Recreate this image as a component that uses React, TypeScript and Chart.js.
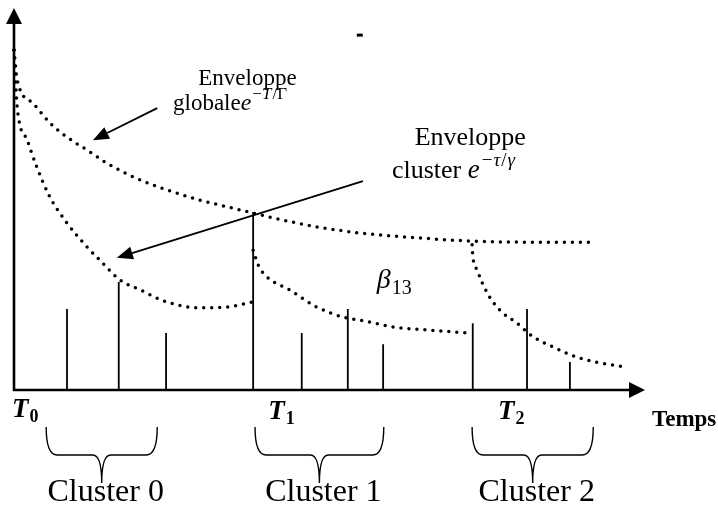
import React, { useEffect, useRef } from "react";
import { Chart, registerables } from "chart.js";

Chart.register(...registerables);

// ---- data (time units 0..100 along the axis, amplitude units 0..100) ----
const globalEnvelopeT = [0, 0.5, 3.0, 5.7, 8.4, 11.6, 14.7, 18.9, 24.2, 29.5, 34.7, 37.9, 42.6, 48.0, 54.8, 64.3, 72.3, 81.8, 91.8];
const globalEnvelopeA = [89.0, 81.2, 75.1, 69.9, 66.2, 62.8, 59.4, 55.8, 52.4, 49.7, 47.6, 46.3, 44.5, 42.7, 41.1, 39.8, 39.0, 38.7, 38.7];

const cluster0EnvelopeT = [0, 0.5, 2.1, 3.6, 5.7, 8.4, 11.6, 13.6, 16.8, 20.0, 24.3, 29.5, 33.8, 37.7];
const cluster0EnvelopeA = [89.0, 74.1, 65.4, 58.4, 50.5, 43.7, 37.4, 34.0, 28.8, 26.2, 23.0, 21.5, 21.7, 23.0];

const cluster1EnvelopeT = [37.9, 38.7, 40.1, 43.7, 48.0, 52.8, 54.8, 60.1, 65.5, 72.3];
const cluster1EnvelopeA = [36.6, 32.7, 29.6, 26.2, 21.7, 18.8, 18.3, 16.5, 15.7, 14.9];

const cluster2EnvelopeT = [72.6, 72.7, 73.4, 75.0, 77.0, 79.7, 82.3, 85.4, 89.2, 92.9, 97.1];
const cluster2EnvelopeA = [38.0, 35.3, 31.4, 25.4, 20.9, 17.5, 13.9, 11.3, 8.6, 7.1, 6.0];

const spikeTimes = [8.4, 16.6, 24.1, 37.9, 45.6, 52.9, 58.5, 72.7, 81.3, 88.1];
const spikeHeights = [21.2, 28.3, 14.9, 46.6, 14.9, 21.2, 12.0, 17.5, 21.2, 7.3];

const clusterNames = ["Cluster 0", "Cluster 1", "Cluster 2"];
const clusterStart = [5.1, 38.2, 72.6];
const clusterEnd = [22.7, 58.6, 91.8];

const originSubscripts = ["0", "1", "2"];
const originLabelTimes = [-0.3, 40.3, 76.7];

const arrowFromT = [22.7, 55.3];
const arrowFromA = [73.8, 54.7];
const arrowToT = [12.5, 16.3];
const arrowToA = [65.4, 34.6];

const axisTitle = "Temps";

// ---- styles ----
const SERIF = "'Liberation Serif', 'Times New Roman', serif";
const INK = "#000";

type Run = { text: string; font: string; dy?: number; dx?: number };

function drawRuns(ctx: CanvasRenderingContext2D, runs: Run[], x: number, y: number, align: "left" | "center" = "left") {
  let total = 0;
  for (const r of runs) {
    ctx.font = r.font;
    total += ctx.measureText(r.text).width + (r.dx || 0);
  }
  let cx = align === "center" ? x - total / 2 : x;
  ctx.textAlign = "left";
  ctx.textBaseline = "alphabetic";
  for (const r of runs) {
    ctx.font = r.font;
    cx += r.dx || 0;
    ctx.fillText(r.text, cx, y + (r.dy || 0));
    cx += ctx.measureText(r.text).width;
  }
}

function arrowHead(ctx: CanvasRenderingContext2D, fx: number, fy: number, tx: number, ty: number, len: number, half: number) {
  const ang = Math.atan2(ty - fy, tx - fx);
  const bx = tx - len * Math.cos(ang);
  const by = ty - len * Math.sin(ang);
  ctx.beginPath();
  ctx.moveTo(tx, ty);
  ctx.lineTo(bx + half * Math.sin(ang), by - half * Math.cos(ang));
  ctx.lineTo(bx - half * Math.sin(ang), by + half * Math.cos(ang));
  ctx.closePath();
  ctx.fill();
  return { bx, by };
}

function brace(ctx: CanvasRenderingContext2D, L: number, R: number, top: number, mid: number, tip: number) {
  const C = (L + R) / 2;
  const r = 11;
  const r2 = 9;
  ctx.beginPath();
  ctx.moveTo(L, top);
  ctx.quadraticCurveTo(L, mid, L + r, mid);
  ctx.lineTo(C - r2, mid);
  ctx.quadraticCurveTo(C, mid, C, tip);
  ctx.quadraticCurveTo(C, mid, C + r2, mid);
  ctx.lineTo(R - r, mid);
  ctx.quadraticCurveTo(R, mid, R, top);
  ctx.stroke();
}

const diagramPlugin = {
  id: "diagram",
  beforeDatasetsDraw(chart: any) {
    const { ctx, chartArea } = chart;
    const { left, right, top, bottom } = chartArea;
    ctx.save();
    ctx.strokeStyle = INK;
    ctx.fillStyle = INK;
    ctx.lineWidth = 2.6;
    ctx.beginPath();
    ctx.moveTo(left, bottom + 1);
    ctx.lineTo(left, top + 12);
    ctx.stroke();
    arrowHead(ctx, left, bottom, left, top, 16, 8);
    ctx.beginPath();
    ctx.moveTo(left - 1, bottom);
    ctx.lineTo(right - 12, bottom);
    ctx.stroke();
    arrowHead(ctx, left, bottom, right, bottom, 16, 8);
    ctx.restore();
  },
  afterDatasetsDraw(chart: any) {
    const { ctx, chartArea, scales } = chart;
    const X = (v: number) => scales.x.getPixelForValue(v);
    const Y = (v: number) => scales.y.getPixelForValue(v);
    const base = chartArea.bottom;
    ctx.save();
    ctx.strokeStyle = INK;
    ctx.fillStyle = INK;

    // arrows
    ctx.lineWidth = 1.8;
    for (let i = 0; i < arrowFromT.length; i++) {
      const fx = X(arrowFromT[i]);
      const fy = Y(arrowFromA[i]);
      const tx = X(arrowToT[i]);
      const ty = Y(arrowToA[i]);
      const { bx, by } = arrowHead(ctx, fx, fy, tx, ty, 16, 6.5);
      ctx.beginPath();
      ctx.moveTo(fx, fy);
      ctx.lineTo(bx, by);
      ctx.stroke();
    }

    // braces + cluster names
    ctx.lineWidth = 1.4;
    for (let i = 0; i < clusterNames.length; i++) {
      const L = X(clusterStart[i]);
      const R = X(clusterEnd[i]);
      brace(ctx, L, R, base + 37, base + 65, base + 93);
      drawRuns(ctx, [{ text: clusterNames[i], font: `32px ${SERIF}` }], (L + R) / 2 + 4, base + 111, "center");
    }

    // origin labels T0, T1, T2
    for (let i = 0; i < originSubscripts.length; i++) {
      drawRuns(
        ctx,
        [
          { text: "T", font: `italic bold 27px ${SERIF}` },
          { text: originSubscripts[i], font: `bold 18px ${SERIF}`, dy: 5, dx: 1 },
        ],
        X(originLabelTimes[i]),
        base + 27 + (i > 0 ? 2 : 0)
      );
    }

    // axis title
    drawRuns(ctx, [{ text: axisTitle, font: `bold 23px ${SERIF}` }], X(101.1), base + 36);

    // global envelope label
    drawRuns(ctx, [{ text: "Enveloppe", font: `23px ${SERIF}` }], X(29.2), Y(79.8));
    drawRuns(
      ctx,
      [
        { text: "globale", font: `23px ${SERIF}` },
        { text: "e", font: `italic 24px ${SERIF}` },
        { text: "\u2212", font: `17px ${SERIF}`, dy: -11, dx: 1 },
        { text: "T", font: `italic 17px ${SERIF}`, dy: -11 },
        { text: "/\u0393", font: `17px ${SERIF}`, dy: -11, dx: 1 },
      ],
      X(25.2),
      Y(73.3)
    );

    // cluster envelope label
    drawRuns(ctx, [{ text: "Enveloppe", font: `26px ${SERIF}` }], X(63.5), Y(64.1));
    drawRuns(
      ctx,
      [
        { text: "cluster ", font: `26px ${SERIF}` },
        { text: "e", font: `italic 27px ${SERIF}` },
        { text: "\u2212", font: `19px ${SERIF}`, dy: -12, dx: 2 },
        { text: "\u03c4", font: `italic 19px ${SERIF}`, dy: -12, dx: 1 },
        { text: "/", font: `19px ${SERIF}`, dy: -12, dx: 1 },
        { text: "\u03b3", font: `italic 19px ${SERIF}`, dy: -12, dx: 1 },
      ],
      X(59.9),
      Y(55.5)
    );

    // beta label
    drawRuns(
      ctx,
      [
        { text: "\u03b2", font: `italic 28px ${SERIF}` },
        { text: "13", font: `20px ${SERIF}`, dy: 6, dx: 1 },
      ],
      X(57.5),
      Y(26.7)
    );

    // stray dash
    ctx.fillRect(X(54.8) - 3, Y(92.9) - 1.5, 6, 3);

    ctx.restore();
  },
};

const toPoints = (ts: number[], as: number[]) => ts.map((t, i) => ({ x: t, y: as[i] }));

const dotted = (ts: number[], as: number[]) => ({
  data: toPoints(ts, as),
  borderColor: INK,
  borderWidth: 3.5,
  borderDash: [0, 8],
  borderCapStyle: "round" as const,
  pointRadius: 0,
  cubicInterpolationMode: "monotone" as const,
  fill: false,
  clip: false as const,
});

export default function App() {
  const ref = useRef<HTMLCanvasElement | null>(null);

  useEffect(() => {
    if (!ref.current) return;
    const spikeData = spikeTimes.flatMap((t, i) => [
      { x: t, y: 0 },
      { x: t, y: spikeHeights[i] },
      { x: t, y: null as any },
    ]);
    const chart = new Chart(ref.current, {
      type: "line",
      data: {
        datasets: [
          dotted(globalEnvelopeT, globalEnvelopeA),
          dotted(cluster0EnvelopeT, cluster0EnvelopeA),
          dotted(cluster1EnvelopeT, cluster1EnvelopeA),
          dotted(cluster2EnvelopeT, cluster2EnvelopeA),
          {
            data: spikeData,
            borderColor: INK,
            borderWidth: 1.8,
            pointRadius: 0,
            spanGaps: false,
            tension: 0,
            fill: false,
            clip: false as const,
          } as any,
        ],
      },
      options: {
        animation: false,
        responsive: false,
        devicePixelRatio: 1,
        layout: { padding: { left: 14, right: 73, top: 8, bottom: 116 } },
        plugins: { legend: { display: false }, tooltip: { enabled: false } },
        events: [],
        scales: {
          x: { type: "linear", min: 0, max: 100, display: false },
          y: { type: "linear", min: 0, max: 100, display: false },
        },
      },
      plugins: [diagramPlugin],
    });
    return () => chart.destroy();
  }, []);

  return (
    <div style={{ position: "absolute", left: 0, top: 0, width: 718, height: 506, background: "#fff" }}>
      <canvas ref={ref} width={718} height={506} style={{ display: "block", width: 718, height: 506 }} />
    </div>
  );
}
